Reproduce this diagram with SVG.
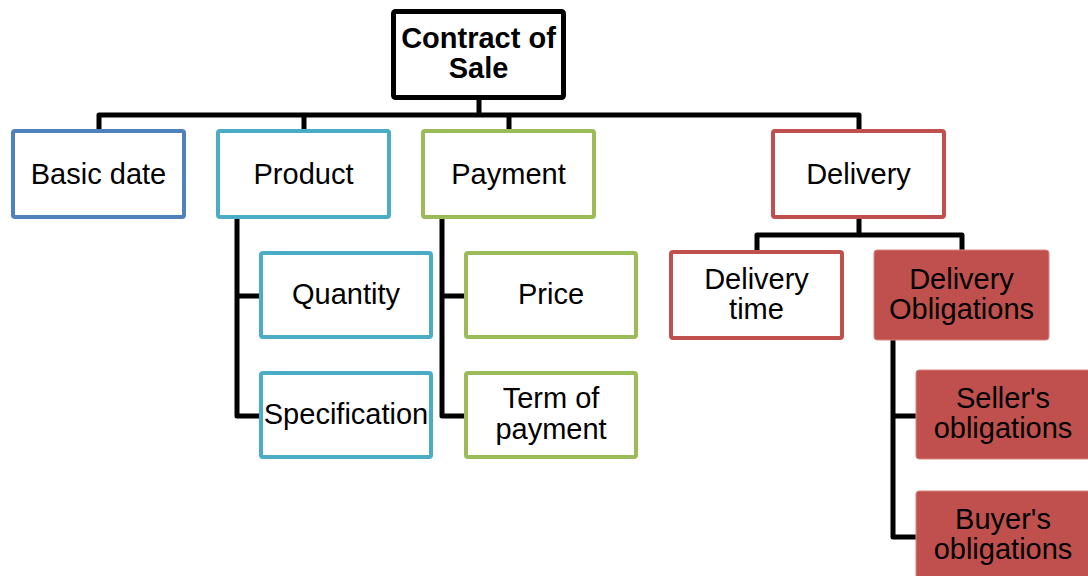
<svg xmlns="http://www.w3.org/2000/svg" width="1088" height="576" viewBox="0 0 1088 576">
<style>
.t{font-family:"Liberation Sans",Arial,sans-serif;font-size:29px;fill:#000;text-anchor:middle}
.b{font-weight:bold}
.box{fill:#fff;stroke-width:4}
.blue{stroke:#4F81BD}
.cyan{stroke:#4BACC6}
.green{stroke:#9BBB59}
.red{stroke:#C0504D}
.fill{fill:#C0504D;stroke:#D98683;stroke-width:1}
.c{fill:none;stroke:#000;stroke-width:5;stroke-linejoin:round;stroke-linecap:butt}
</style>
<rect width="1088" height="576" fill="#fff"/>
<g id="connectors">
<path class="c" d="M479 99V115M99 129V115H859V129M304 115V129M509 115V129"/>
<path class="c" d="M237 219V416H261M237 296H261"/>
<path class="c" d="M442 219V416H466M442 296H466"/>
<path class="c" d="M859 219V235M757 250V235H962V250"/>
<path class="c" d="M893 340V537H916M893 416H916"/>
</g>
<g id="root">
<rect x="393.5" y="11.5" width="170" height="86" rx="2" fill="#fff" stroke="#000" stroke-width="5"/>
<text class="t b" x="478.5" y="48">Contract of</text>
<text class="t b" x="478.5" y="78">Sale</text>
</g>
<g id="basic-date">
<rect class="box blue" x="13" y="131" width="171" height="86" rx="2"/>
<text class="t" x="98.5" y="184">Basic date</text>
</g>
<g id="product">
<rect class="box cyan" x="218" y="131" width="171" height="86" rx="2"/>
<text class="t" x="303.5" y="184">Product</text>
</g>
<g id="payment">
<rect class="box green" x="423" y="131" width="171" height="86" rx="2"/>
<text class="t" x="508.5" y="184">Payment</text>
</g>
<g id="delivery">
<rect class="box red" x="773" y="131" width="171" height="86" rx="2"/>
<text class="t" x="858.5" y="184">Delivery</text>
</g>
<g id="quantity">
<rect class="box cyan" x="261" y="253" width="170" height="84" rx="2"/>
<text class="t" x="346" y="304">Quantity</text>
</g>
<g id="specification">
<rect class="box cyan" x="261" y="373" width="170" height="84" rx="2"/>
<text class="t" x="346" y="424">Specification</text>
</g>
<g id="price">
<rect class="box green" x="466" y="253" width="170" height="84" rx="2"/>
<text class="t" x="551" y="304">Price</text>
</g>
<g id="term-of-payment">
<rect class="box green" x="466" y="373" width="170" height="84" rx="2"/>
<text class="t" x="551" y="408">Term of</text>
<text class="t" x="551" y="439">payment</text>
</g>
<g id="delivery-time">
<rect class="box red" x="671" y="252" width="171" height="86" rx="2"/>
<text class="t" x="756.5" y="289">Delivery</text>
<text class="t" x="756.5" y="319">time</text>
</g>
<g id="delivery-obligations">
<rect class="fill" x="874" y="250" width="175" height="90" rx="3"/>
<text class="t" x="961.5" y="289">Delivery</text>
<text class="t" x="961.5" y="319">Obligations</text>
</g>
<g id="sellers-obligations">
<rect class="fill" x="916" y="370" width="175" height="89" rx="3"/>
<text class="t" x="1003" y="408">Seller's</text>
<text class="t" x="1003" y="438">obligations</text>
</g>
<g id="buyers-obligations">
<rect class="fill" x="916" y="491" width="175" height="92" rx="3"/>
<text class="t" x="1003" y="529">Buyer's</text>
<text class="t" x="1003" y="559">obligations</text>
</g>
</svg>
